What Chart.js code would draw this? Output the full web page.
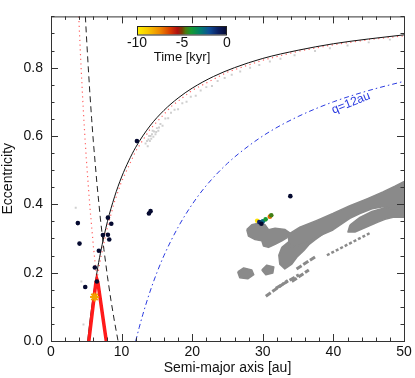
<!DOCTYPE html>
<html>
<head>
<meta charset="utf-8">
<script src="https://cdn.jsdelivr.net/npm/chart.js@4"></script>
<style>
  html, body { margin: 0; padding: 0; background: #fff; }
</style>
</head>
<body>
<canvas id="myChart" width="415" height="378"></canvas>
<script>
// perihelion q = 5.2 au (black solid)
const qJupA = [5.2, 5.35, 5.5, 5.75, 6, 6.5, 7, 8, 9, 10, 11, 12, 14, 16, 18, 20, 23, 26, 30, 35, 40, 45, 50];
const qJupE = [0, 0.028, 0.055, 0.096, 0.133, 0.2, 0.257, 0.35, 0.422, 0.48, 0.527, 0.567, 0.629, 0.675, 0.711, 0.74, 0.774, 0.8, 0.827, 0.851, 0.87, 0.884, 0.896];

// aphelion Q = 9.5 au (black dashed)
const qSatA = [4.87, 5, 5.25, 5.5, 5.75, 6, 6.5, 7, 7.5, 8, 8.5, 9, 9.5];
const qSatE = [0.95, 0.9, 0.81, 0.727, 0.652, 0.583, 0.462, 0.357, 0.267, 0.188, 0.118, 0.056, 0];

// red dotted envelope (Q branch then q branch)
const envA = [3.93, 4, 4.25, 4.5, 4.75, 5, 5.5, 6, 6.5, 7, 8, 9, 10, 12, 14, 17, 20, 25, 30, 35, 40, 45, 50];
const envE = [0.95, 0.918, 0.805, 0.704, 0.615, 0.534, 0.395, 0.278, 0.18, 0.239, 0.334, 0.408, 0.467, 0.556, 0.619, 0.686, 0.734, 0.787, 0.822, 0.848, 0.867, 0.882, 0.893];

// q = 12 au (blue dash-dot)
const q12A = [12, 12.5, 13, 14, 15, 16, 18, 20, 22, 25, 28, 31, 35, 40, 45, 50];
const q12E = [0, 0.04, 0.077, 0.143, 0.2, 0.25, 0.333, 0.4, 0.455, 0.52, 0.571, 0.613, 0.657, 0.7, 0.733, 0.76];

// red track
const trackA = [5.36, 6.35, 6.5, 6.65, 7.83];
const trackE = [0, 0.17, 0.18, 0.17, 0];

// present-day objects (t = 0)
const nowA = [3.8, 4.04, 8.06, 8.54, 8.06, 8.25, 7.35, 6.78, 6.21, 6.5, 4.85, 12.17, 13.87, 14.1, 33.9];
const nowE = [0.345, 0.285, 0.361, 0.343, 0.311, 0.297, 0.31, 0.264, 0.215, 0.174, 0.158, 0.585, 0.373, 0.38, 0.424];

// time-coloured particle near 30 au
const histA = [29.2, 29.5, 30.0, 29.8, 30.4, 31.0, 31.2];
const histE = [0.352, 0.348, 0.35, 0.343, 0.356, 0.364, 0.368];
const histT = [-9.5, -1, -2.5, 0, -4, -7, -4.5];

// star marker
const starA = [6.17];
const starE = [0.129];
const starT = [-8];

// light grey particles
const lightA = [3.5, 4.3, 4.6, 13.4, 13.6, 13.7, 13.8, 13.9, 14.0, 14.1, 14.2, 14.3, 14.4, 14.5, 14.6, 14.8, 14.9, 15.0, 15.2, 15.3, 15.5, 15.8, 16.2, 16.6, 17.0, 17.5, 18.0, 18.6, 19.2, 19.8, 20.5, 21.2, 22.0, 22.8, 23.6, 24.6, 25.6, 26.8, 28.2, 29.5, 31.0, 32.5, 34.5, 37.4, 39.5, 42.0, 45.0, 48.0];
const lightE = [0.39, 0.174, 0.048, 0.578, 0.585, 0.57, 0.59, 0.6, 0.585, 0.6, 0.592, 0.605, 0.615, 0.598, 0.613, 0.605, 0.612, 0.623, 0.615, 0.625, 0.635, 0.63, 0.651, 0.652, 0.668, 0.677, 0.678, 0.696, 0.7, 0.715, 0.718, 0.733, 0.743, 0.746, 0.761, 0.77, 0.779, 0.789, 0.8, 0.808, 0.818, 0.826, 0.836, 0.849, 0.857, 0.865, 0.874, 0.882];

// grey particle cloud, outlines
const bandA = [33.55, 35.25, 37.66, 39.93, 42.34, 44.75, 47.02, 48.72, 50.5, 50.5, 48.3, 47.02, 45.46, 43.76, 42.34, 40.92, 39.93, 38.37, 36.67, 34.96, 33.83, 33.55];
const bandE = [0.311, 0.333, 0.353, 0.373, 0.396, 0.416, 0.436, 0.453, 0.472, 0.39, 0.387, 0.393, 0.387, 0.373, 0.359, 0.339, 0.325, 0.311, 0.293, 0.279, 0.276, 0.311];
const chunkA = [42.34, 43.76, 45.46, 47.3, 48.72, 50.5, 50.5, 48.44, 47.3, 46.31, 44.61, 43.05, 42.06, 42.34];
const chunkE = [0.339, 0.362, 0.379, 0.39, 0.387, 0.387, 0.362, 0.362, 0.356, 0.348, 0.333, 0.319, 0.319, 0.339];
const midA = [32.7, 33.83, 35.11, 36.52, 38.09, 38.51, 37.38, 36.52, 35.82, 34.82, 34.11, 33.12, 32.41, 32.27, 32.7];
const midE = [0.274, 0.293, 0.308, 0.322, 0.336, 0.313, 0.296, 0.282, 0.265, 0.245, 0.225, 0.211, 0.225, 0.251, 0.274];
const blobA = [27.73, 28.44, 29.39, 30.33, 30.81, 31.74, 33.16, 33.87, 33.4, 32.7, 31.74, 30.81, 30.1, 29.86, 28.91, 27.97, 27.73];
const blobE = [0.326, 0.34, 0.345, 0.34, 0.326, 0.33, 0.326, 0.316, 0.302, 0.293, 0.283, 0.274, 0.278, 0.293, 0.297, 0.307, 0.326];
const smallCA = [26.45, 27.3, 28.44, 28.72, 27.87, 26.74, 26.45];
const smallCE = [0.202, 0.214, 0.208, 0.194, 0.182, 0.185, 0.202];
const smallDA = [29.86, 30.57, 31.56, 31.42, 30.43, 29.86];
const smallDE = [0.208, 0.222, 0.217, 0.199, 0.194, 0.208];
const streakA = [[30.43, 33.55], [31.84, 35.11], [34.11, 36.52], [34.78, 37.62], [39.08, 45.18]];
const streakE = [[0.131, 0.177], [0.154, 0.194], [0.174, 0.208], [0.211, 0.249], [0.251, 0.316]];

// colour bar
const cbarTicks = [-10, -5, 0];
const cbarStops = [
  [0, '#fff200'], [0.12, '#f8c800'], [0.25, '#ee8a00'], [0.37, '#d83a00'],
  [0.45, '#b01010'], [0.5, '#7a3a00'], [0.54, '#4a7a10'], [0.6, '#159a30'],
  [0.7, '#00806a'], [0.8, '#0e4f98'], [0.9, '#0b1f62'], [1, '#050a30']
];

const toPts = (xs, ys) => xs.map((x, i) => ({ x: x, y: ys[i] }));

const hexRgb = (h) => [parseInt(h.slice(1, 3), 16), parseInt(h.slice(3, 5), 16), parseInt(h.slice(5, 7), 16)];
const timeColor = (t) => {
  const f = Math.min(1, Math.max(0, (t + 10) / 10));
  for (let i = 1; i < cbarStops.length; i++) {
    if (f <= cbarStops[i][0]) {
      const [f0, c0] = cbarStops[i - 1];
      const [f1, c1] = cbarStops[i];
      const k = (f - f0) / (f1 - f0);
      const a = hexRgb(c0), b = hexRgb(c1);
      return 'rgb(' + a.map((v, j) => Math.round(v + (b[j] - v) * k)).join(',') + ')';
    }
  }
  return cbarStops[cbarStops.length - 1][1];
};

const GREY = '#8a8a8a';
const FONT = 'Liberation Sans, Arial, sans-serif';

const shape = (xs, ys) => ({
  data: toPts(xs, ys),
  showLine: true,
  fill: 'shape',
  backgroundColor: GREY,
  borderColor: GREY,
  borderWidth: 1.5,
  borderJoinStyle: 'round',
  pointRadius: 0,
});

const datasets = [
  {
    data: toPts(nowA, nowE),
    pointRadius: 2.3,
    pointBackgroundColor: timeColor(0),
    pointBorderWidth: 0,
  },
  {
    data: toPts(histA, histE),
    pointRadius: 2.3,
    pointBackgroundColor: histT.map(timeColor),
    pointBorderWidth: 0,
  },
  {
    data: toPts(starA, starE),
    pointStyle: 'star',
    pointRadius: 4.5,
    pointBorderColor: starT.map(timeColor),
    pointBorderWidth: 2,
  },
  {
    data: toPts(trackA, trackE),
    showLine: true,
    borderColor: '#ff1a1a',
    borderWidth: 3.5,
    pointRadius: 0,
  },
  {
    data: toPts(qJupA, qJupE),
    showLine: true,
    borderColor: '#111',
    borderWidth: 1,
    cubicInterpolationMode: 'monotone',
    pointRadius: 0,
  },
  {
    data: toPts(qSatA, qSatE),
    showLine: true,
    borderColor: '#222',
    borderWidth: 1,
    borderDash: [6, 4],
    pointRadius: 0,
  },
  {
    data: toPts(envA, envE),
    showLine: true,
    borderColor: 'rgba(255,70,70,0.85)',
    borderWidth: 1.2,
    borderDash: [1.2, 3.5],
    pointRadius: 0,
  },
  {
    data: toPts(q12A, q12E),
    showLine: true,
    borderColor: '#2a3ae0',
    borderWidth: 1,
    borderDash: [5, 3, 1.5, 3],
    cubicInterpolationMode: 'monotone',
    pointRadius: 0,
  },
  {
    data: toPts(lightA, lightE),
    pointStyle: 'rect',
    pointRadius: 1.4,
    pointBackgroundColor: '#cfcfcf',
    pointBorderWidth: 0,
  },
  shape(bandA, bandE),
  shape(chunkA, chunkE),
  shape(midA, midE),
  shape(blobA, blobE),
  shape(smallCA, smallCE),
  shape(smallDA, smallDE),
];
streakA.forEach((xs, i) => {
  datasets.push({
    data: toPts(xs, streakE[i]),
    showLine: true,
    borderColor: GREY,
    borderWidth: i === 4 ? 2.5 : 3,
    borderDash: i === 4 ? [3, 2] : [6, 2],
    pointRadius: 0,
  });
});

const frameTicks = {
  id: 'frameTicks',
  afterDraw(chart) {
    const { ctx, chartArea: ca, scales: { x, y } } = chart;
    ctx.save();
    ctx.strokeStyle = '#333';
    ctx.lineWidth = 1;
    ctx.strokeRect(ca.left + 0.5, ca.top + 0.5, ca.right - ca.left, ca.bottom - ca.top);
    ctx.beginPath();
    for (let v = 0; v <= 50; v += 2) {
      const px = Math.round(x.getPixelForValue(v)) + 0.5;
      const len = v % 10 === 0 ? 7 : 3.5;
      ctx.moveTo(px, ca.bottom); ctx.lineTo(px, ca.bottom - len);
      ctx.moveTo(px, ca.top); ctx.lineTo(px, ca.top + len);
    }
    for (let i = 0; i <= 19; i++) {
      const py = Math.round(y.getPixelForValue(i * 0.05)) + 0.5;
      const len = i % 4 === 0 ? 7 : 3.5;
      ctx.moveTo(ca.left, py); ctx.lineTo(ca.left + len, py);
      ctx.moveTo(ca.right, py); ctx.lineTo(ca.right - len, py);
    }
    ctx.stroke();

    // colour bar
    const bx = 137, by = 26, bw = 90, bh = 8.5;
    const grad = ctx.createLinearGradient(bx, 0, bx + bw, 0);
    cbarStops.forEach(([f, c]) => grad.addColorStop(f, c));
    ctx.fillStyle = grad;
    ctx.fillRect(bx, by, bw, bh);
    ctx.strokeStyle = '#222';
    ctx.strokeRect(bx + 0.5, by + 0.5, bw - 1, bh);
    ctx.fillStyle = '#111';
    ctx.font = '14px ' + FONT;
    ctx.textAlign = 'center';
    ctx.textBaseline = 'middle';
    cbarTicks.forEach((t) => {
      ctx.fillText(String(t), bx + bw * (t + 10) / 10, 43);
    });
    ctx.font = '13px ' + FONT;
    ctx.fillText('Time [kyr]', bx + bw / 2, 57);

    // q=12au label
    ctx.save();
    ctx.translate(351, 103);
    ctx.rotate(-22 * Math.PI / 180);
    ctx.fillStyle = '#2a3ae0';
    ctx.font = '12px ' + FONT;
    ctx.fillText('q=12au', 0, 0);
    ctx.restore();
    ctx.restore();
  }
};

new Chart(document.getElementById('myChart'), {
  type: 'scatter',
  data: { datasets: datasets },
  options: {
    responsive: false,
    animation: false,
    layout: { padding: { top: 7, right: 11, left: 0, bottom: 0 } },
    plugins: {
      legend: { display: false },
      tooltip: { enabled: false },
    },
    scales: {
      x: {
        type: 'linear',
        min: 0,
        max: 50,
        grid: { display: false, drawTicks: false },
        border: { display: false },
        ticks: { stepSize: 10, padding: 3, color: '#111', font: { family: FONT, size: 14 } },
        title: {
          display: true,
          text: 'Semi-major axis [au]',
          color: '#111',
          font: { family: FONT, size: 14 },
          padding: { top: 0, bottom: 1 },
        },
        afterFit: (s) => { s.height = 37; },
      },
      y: {
        type: 'linear',
        min: 0,
        max: 0.95,
        grid: { display: false, drawTicks: false },
        border: { display: false },
        ticks: {
          stepSize: 0.2,
          includeBounds: false,
          padding: 8,
          color: '#111',
          font: { family: FONT, size: 14 },
          callback: (v) => v.toFixed(1),
        },
        title: {
          display: true,
          text: 'Eccentricity',
          color: '#111',
          font: { family: FONT, size: 14 },
          padding: 0,
        },
        afterFit: (s) => { s.width = 51; },
      },
    },
  },
  plugins: [frameTicks],
});
</script>
</body>
</html>
